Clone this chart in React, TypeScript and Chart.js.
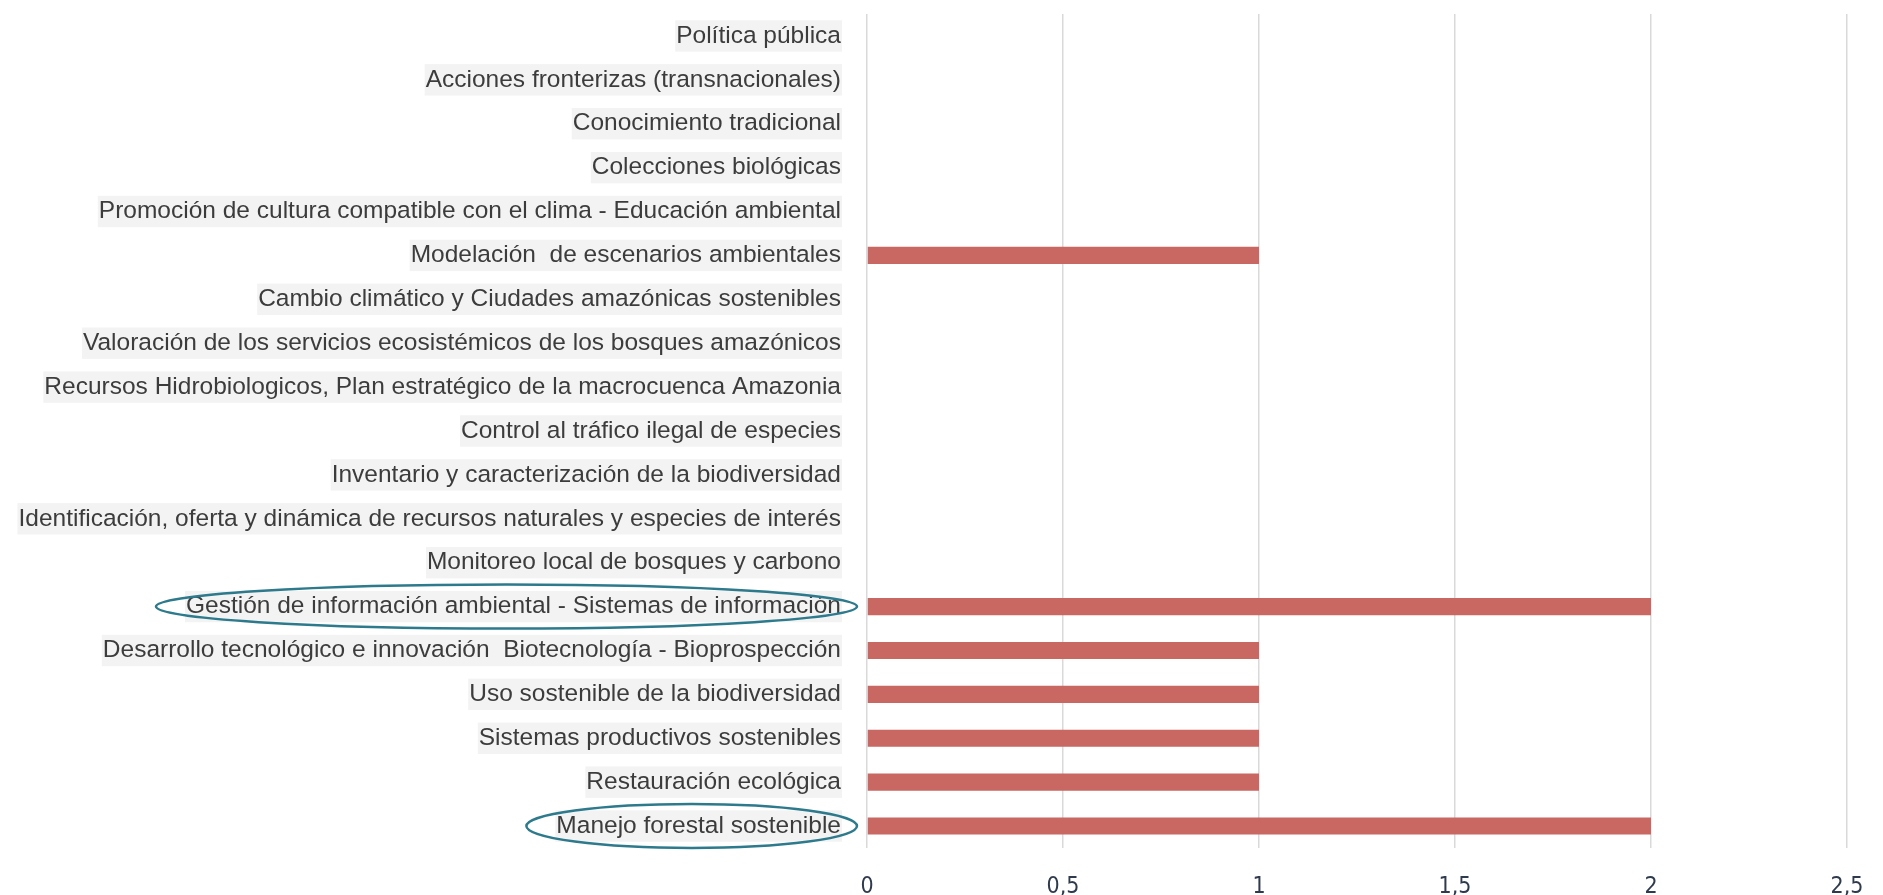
import React, { useEffect, useRef } from "react";
import { Chart, registerables } from "chart.js";

Chart.register(...registerables);

const categories: string[] = [
  "Política pública",
  "Acciones fronterizas (transnacionales)",
  "Conocimiento tradicional",
  "Colecciones biológicas",
  "Promoción de cultura compatible con el clima - Educación ambiental",
  "Modelación  de escenarios ambientales",
  "Cambio climático y Ciudades amazónicas sostenibles",
  "Valoración de los servicios ecosistémicos de los bosques amazónicos",
  "Recursos Hidrobiologicos, Plan estratégico de la macrocuenca Amazonia",
  "Control al tráfico ilegal de especies",
  "Inventario y caracterización de la biodiversidad",
  "Identificación, oferta y dinámica de recursos naturales y especies de interés",
  "Monitoreo local de bosques y carbono",
  "Gestión de información ambiental - Sistemas de información",
  "Desarrollo tecnológico e innovación  Biotecnología - Bioprospección",
  "Uso sostenible de la biodiversidad",
  "Sistemas productivos sostenibles",
  "Restauración ecológica",
  "Manejo forestal sostenible",
];

const values: number[] = [0, 0, 0, 0, 0, 1, 0, 0, 0, 0, 0, 0, 0, 2, 1, 1, 1, 1, 2];

const highlighted: string[] = [
  "Gestión de información ambiental - Sistemas de información",
  "Manejo forestal sostenible",
];

const xTickValues: number[] = [0, 0.5, 1, 1.5, 2, 2.5];

const LABEL_FONT = { family: "'Liberation Sans', Arial, Helvetica, sans-serif", size: 24.5 };
const LABEL_PAD = 26;

const ellipsePlugin = {
  id: "ellipses",
  afterDraw(chart: any) {
    const ctx = chart.ctx;
    const yScale = chart.scales.y;
    ctx.save();
    ctx.font = `${LABEL_FONT.size}px ${LABEL_FONT.family}`;
    ctx.strokeStyle = "#2c7a8c";
    ctx.lineWidth = 2.5;
    highlighted.forEach((lab) => {
      const i = categories.indexOf(lab);
      if (i < 0) return;
      const cy = yScale.getPixelForValue(i);
      const tw = ctx.measureText(lab).width;
      const right = yScale.right - LABEL_PAD;
      const cx = right - tw / 2 - 7;
      const rx = tw / 2 + 23;
      const ry = 22;
      ctx.beginPath();
      ctx.ellipse(cx, cy, rx, ry, 0, 0, Math.PI * 2);
      ctx.stroke();
    });
    ctx.restore();
  },
};

export default function App() {
  const ref = useRef<HTMLCanvasElement>(null);
  useEffect(() => {
    document.body.style.margin = "0";
    const canvas = ref.current!;
    const chart = new Chart(canvas, {
      type: "bar",
      data: {
        labels: categories,
        datasets: [
          {
            data: values,
            backgroundColor: "#c96762",
            borderWidth: 0,
            categoryPercentage: 1,
            barPercentage: 0.39,
          },
        ],
      },
      options: {
        indexAxis: "y",
        responsive: false,
        animation: false,
        layout: { padding: { top: 14, right: 36, left: 0, bottom: 0 } },
        plugins: { legend: { display: false }, tooltip: { enabled: false } },
        scales: {
          x: {
            min: 0,
            max: 2.5,
            afterBuildTicks(scale: any) {
              scale.ticks = xTickValues.map((v) => ({ value: v }));
            },
            afterFit(scale: any) {
              scale.height = 47;
              scale.paddingLeft = 0;
              scale.paddingRight = 0;
            },
            grid: { color: "#d9d9d9", lineWidth: 1.5, drawTicks: false },
            border: { display: false },
            ticks: {
              padding: 25,
              color: "#2f3b4c",
              font: { family: "'Liberation Sans Narrow', 'DejaVu Sans Condensed', sans-serif", size: 23 },
              callback: (v: any) => String(v).replace(".", ","),
            },
          },
          y: {
            afterFit(scale: any) {
              scale.width = 867;
              scale.paddingTop = 0;
              scale.paddingBottom = 0;
            },
            grid: { display: false, drawTicks: false },
            border: { display: false },
            ticks: {
              padding: LABEL_PAD,
              color: "#3c3c3c",
              font: LABEL_FONT,
              autoSkip: false,
              showLabelBackdrop: true,
              backdropColor: "#f3f3f3",
              backdropPadding: 1,
            } as any,
          },
        },
      } as any,
      plugins: [ellipsePlugin],
    });
    return () => chart.destroy();
  }, []);
  return (
    <div style={{ width: 1883, height: 895 }}>
      <canvas ref={ref} width={1883} height={895} />
    </div>
  );
}
